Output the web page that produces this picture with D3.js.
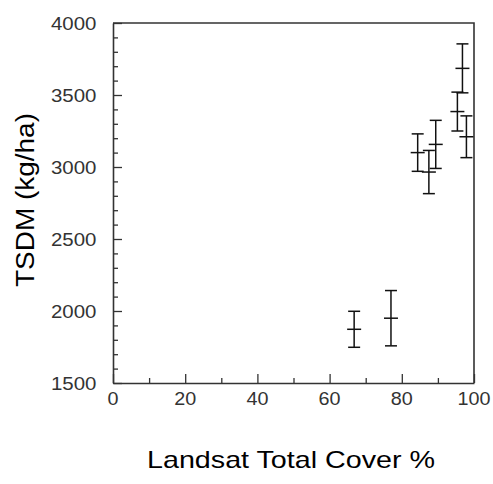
<!DOCTYPE html>
<html><head><meta charset="utf-8">
<script src="https://cdn.jsdelivr.net/npm/d3@7"></script>
<style>body{margin:0;background:#fff}svg{display:block}</style>
</head><body>
<svg id="c" width="493" height="484"></svg>
<script>
const cover = [66.8, 77.0, 84.4, 87.5, 89.4, 95.4, 96.8, 97.9];
const tsdm  = [1873, 1950, 3100, 2965, 3157, 3385, 3685, 3210];
const err   = [125, 192, 130, 150, 167, 135, 170, 145];
const xTicks = [0, 20, 40, 60, 80, 100];
const yTicks = [1500, 2000, 2500, 3000, 3500, 4000];

const svg = d3.select("#c");
const L = 113, R = 474, T = 23, B = 383;
const x = d3.scaleLinear().domain([0, 100]).range([L, R]);
const y = d3.scaleLinear().domain([1500, 4000]).range([B, T]);
const font = "Liberation Sans, Arial, sans-serif";
const axisCol = "#333";

// frame
svg.append("path").attr("d", `M${L},${T}H${R}V${B}`).attr("fill","none").attr("stroke",axisCol).attr("stroke-width",1.6);

// x axis
const gx = svg.append("g").attr("transform", `translate(0,${B})`);
gx.call(d3.axisBottom(x).tickValues(d3.range(0,101,10)).tickSize(0).tickFormat(""));
gx.select(".domain").attr("stroke",axisCol).attr("stroke-width",1.6);
gx.selectAll(".tick line").remove();
gx.selectAll(".tick").append("line").attr("y1",0).attr("y2",d=>d%20===0?-9:-5).attr("stroke",axisCol).attr("stroke-width",1.3);
svg.append("g").selectAll("text").data(xTicks).join("text")
  .attr("x",d=>x(d)).attr("y",B+22).attr("text-anchor","middle")
  .attr("font-family",font).attr("font-size",18.5).attr("fill","#333")
  .attr("textLength",d=>String(d).length*11).attr("lengthAdjust","spacingAndGlyphs").text(d=>d);

// y axis
const gy = svg.append("g").attr("transform", `translate(${L},0)`);
gy.call(d3.axisLeft(y).tickValues(d3.range(1500,4001,100)).tickSize(0).tickFormat(""));
gy.select(".domain").attr("stroke",axisCol).attr("stroke-width",1.6);
gy.selectAll(".tick line").remove();
gy.selectAll(".tick").append("line").attr("x1",0).attr("x2",d=>d%500===0?9:5).attr("stroke",axisCol).attr("stroke-width",1.3);
svg.append("g").selectAll("text").data(yTicks).join("text")
  .attr("x",L-16.5).attr("y",d=>y(d)+7).attr("text-anchor","end")
  .attr("font-family",font).attr("font-size",18.5).attr("fill","#333")
  .attr("textLength",45.5).attr("lengthAdjust","spacingAndGlyphs").text(d=>d);

// error bars
const data = cover.map((c,i)=>({c, v:tsdm[i], e:err[i]}));
const g = svg.append("g").attr("stroke","#111").attr("stroke-width",1.5);
data.forEach(d=>{
  const cx = x(d.c);
  g.append("line").attr("x1",cx).attr("x2",cx).attr("y1",y(d.v+d.e)).attr("y2",y(d.v-d.e));
  g.append("line").attr("x1",cx-6).attr("x2",cx+6).attr("y1",y(d.v+d.e)).attr("y2",y(d.v+d.e));
  g.append("line").attr("x1",cx-6).attr("x2",cx+6).attr("y1",y(d.v-d.e)).attr("y2",y(d.v-d.e));
  g.append("line").attr("x1",cx-7).attr("x2",cx+7).attr("y1",y(d.v)).attr("y2",y(d.v));
});

// titles
svg.append("text").attr("x",291).attr("y",468).attr("text-anchor","middle")
  .attr("font-family",font).attr("font-size",24).attr("fill","#000")
  .attr("textLength",288).attr("lengthAdjust","spacingAndGlyphs").text("Landsat Total Cover %");
svg.append("text").attr("transform",`translate(34,200) rotate(-90)`).attr("text-anchor","middle")
  .attr("font-family",font).attr("font-size",25).attr("fill","#000")
  .attr("textLength",174).attr("lengthAdjust","spacingAndGlyphs").text("TSDM (kg/ha)");
</script>
</body></html>
